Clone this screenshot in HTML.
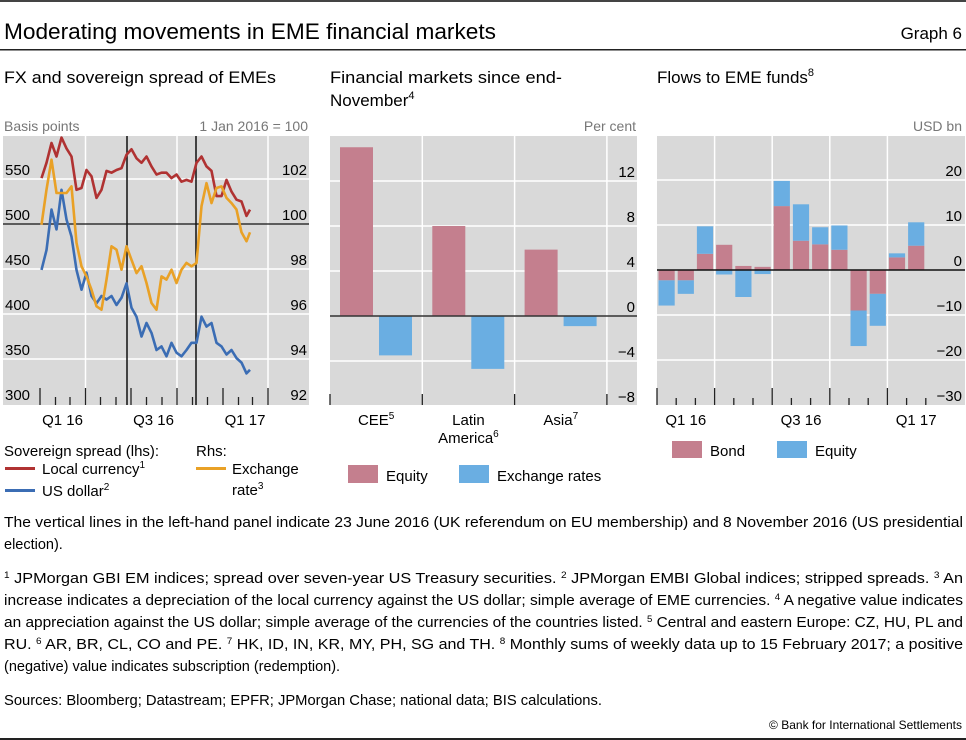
<!DOCTYPE html>
<html><head><meta charset="utf-8"><style>
html,body{margin:0;padding:0;background:#fff;}
svg{display:block;font-family:"Liberation Sans",sans-serif;}
</style></head><body>
<svg id="chart" width="966" height="740" viewBox="0 0 966 740" xmlns="http://www.w3.org/2000/svg">
<rect x="0" y="0" width="966" height="2" fill="#444"/>
<text x="4" y="39" font-size="22" textLength="492" lengthAdjust="spacingAndGlyphs">Moderating movements in EME financial markets</text>
<text x="962" y="39" font-size="17" text-anchor="end">Graph 6</text>
<rect x="0" y="49" width="966" height="1.5" fill="#222"/>

<text x="4" y="83" font-size="17" textLength="272" lengthAdjust="spacingAndGlyphs">FX and sovereign spread of EMEs</text>
<text x="330" y="83" font-size="17" textLength="232" lengthAdjust="spacingAndGlyphs">Financial markets since end-</text>
<text x="330" y="106" font-size="17">November<tspan font-size="11" dy="-7">4</tspan></text>
<text x="657" y="83" font-size="17" textLength="157" lengthAdjust="spacingAndGlyphs">Flows to EME funds<tspan font-size="11" dy="-7">8</tspan></text>

<text x="4" y="131" font-size="14" fill="#777">Basis points</text>
<text x="308" y="131" font-size="14" fill="#777" text-anchor="end">1 Jan 2016 = 100</text>
<text x="636" y="131" font-size="14" fill="#777" text-anchor="end">Per cent</text>
<text x="962" y="131" font-size="14" fill="#777" text-anchor="end">USD bn</text>

<g id="left"></g>
<g id="mid"></g>
<g id="right"></g>

<g font-size="15">
<text x="4" y="456">Sovereign spread (lhs):</text>
<text x="196" y="456">Rhs:</text>
<rect x="5" y="467" width="30" height="3" fill="#b03232"/>
<text x="42" y="474">Local currency<tspan font-size="10" dy="-6">1</tspan></text>
<rect x="5" y="489" width="30" height="3" fill="#3b6db4"/>
<text x="42" y="496">US dollar<tspan font-size="10" dy="-6">2</tspan></text>
<rect x="196" y="467" width="30" height="3" fill="#e9a126"/>
<text x="232" y="474">Exchange</text>
<text x="232" y="495">rate<tspan font-size="10" dy="-6">3</tspan></text>
</g>
<g font-size="15">
<rect x="348" y="465" width="30" height="18" fill="#c47f8e"/>
<text x="386" y="481">Equity</text>
<rect x="459" y="465" width="30" height="18" fill="#6aaee2"/>
<text x="497" y="481">Exchange rates</text>
</g>
<g font-size="15">
<rect x="672" y="441" width="30" height="17" fill="#c47f8e"/>
<text x="710" y="456">Bond</text>
<rect x="777" y="441" width="30" height="17" fill="#6aaee2"/>
<text x="815" y="456">Equity</text>
</g>

<g font-size="14.5">
<text x="4" y="527" textLength="959" lengthAdjust="spacingAndGlyphs">The vertical lines in the left-hand panel indicate 23 June 2016 (UK referendum on EU membership) and 8 November 2016 (US presidential</text>
<text x="4" y="549">election).</text>
<text x="4" y="583" textLength="959" lengthAdjust="spacingAndGlyphs"><tspan font-size="9" dy="-5">1</tspan><tspan dy="5">  JPMorgan GBI EM indices; spread over seven-year US Treasury securities.   </tspan><tspan font-size="9" dy="-5">2</tspan><tspan dy="5">  JPMorgan EMBI Global indices; stripped spreads.   </tspan><tspan font-size="9" dy="-5">3</tspan><tspan dy="5">  An</tspan></text>
<text x="4" y="605" textLength="959" lengthAdjust="spacingAndGlyphs">increase indicates a depreciation of the local currency against the US dollar; simple average of EME currencies.   <tspan font-size="9" dy="-5">4</tspan><tspan dy="5">  A negative value indicates</tspan></text>
<text x="4" y="627" textLength="959" lengthAdjust="spacingAndGlyphs">an appreciation against the US dollar; simple average of the currencies of the countries listed.   <tspan font-size="9" dy="-5">5</tspan><tspan dy="5">  Central and eastern Europe: CZ, HU, PL and</tspan></text>
<text x="4" y="649" textLength="959" lengthAdjust="spacingAndGlyphs">RU.   <tspan font-size="9" dy="-5">6</tspan><tspan dy="5">  AR, BR, CL, CO and PE.   </tspan><tspan font-size="9" dy="-5">7</tspan><tspan dy="5">  HK, ID, IN, KR, MY, PH, SG and TH.   </tspan><tspan font-size="9" dy="-5">8</tspan><tspan dy="5">  Monthly sums of weekly data up to 15 February 2017; a positive</tspan></text>
<text x="4" y="671">(negative) value indicates subscription (redemption).</text>
<text x="4" y="705" textLength="598" lengthAdjust="spacingAndGlyphs">Sources: Bloomberg; Datastream; EPFR; JPMorgan Chase; national data; BIS calculations.</text>
<text x="962" y="729" font-size="12" text-anchor="end">© Bank for International Settlements</text>
</g>
<rect x="0" y="738" width="966" height="2" fill="#222"/>
</svg>
<script>
// ---- Left panel data ----
const fxDays = [3,13,23,33,43,53,63,73,83,93,103,113,123,133,143,153,163,173,183,193,203,213,223,233,243,253,263,273,283,293,303,313,323,333,343,353,363,373,383,393,403,413,420];
const localCurrency = [551,568,590,575,596,584,575,538,540,560,553,529,538,559,557,560,562,577,583,573,568,575,564,555,557,557,551,555,547,549,547,568,575,564,559,531,531,549,536,527,525,509,516];
const usDollar = [449,471,516,494,538,505,486,449,427,446,420,412,420,416,420,410,418,434,407,397,375,390,379,360,364,353,368,357,353,360,368,368,397,386,390,368,364,355,360,351,346,334,338];
const exchangeRate = [99.97,101.53,102.86,101.38,101.38,101.38,101.67,99.16,98.12,97.67,97.08,96.34,96.19,97.53,99.01,98.86,97.97,99.01,98.41,97.82,98.12,97.38,96.49,96.19,97.67,97.53,97.97,97.38,97.97,98.27,98.12,98.27,100.79,101.82,100.93,101.6,101.67,101.16,100.93,100.64,99.63,99.23,99.63];
const lhsTicks = [300,350,400,450,500,550];
const rhsTicks = [92,94,96,98,100,102];
const fxQuarterLabels = ['Q1 16','Q3 16','Q1 17'];
const fxQuarterLabelDays = [45,227,410];
const eventDays = [174,312];
// ---- Middle panel data ----
const regions = ['CEE','Latin America','Asia'];
const regionNotes = ['5','6','7'];
const equityChange = [15.0,8.0,5.9];
const fxChange = [-3.5,-4.7,-0.9];
const midTicks = [-8,-4,0,4,8,12];
// ---- Right panel data ----
const flowMonths = ['Jan 16','Feb 16','Mar 16','Apr 16','May 16','Jun 16','Jul 16','Aug 16','Sep 16','Oct 16','Nov 16','Dec 16','Jan 17','Feb 17'];
const bondFlows = [-2.3,-2.3,3.6,5.6,0.9,0.7,14.2,6.5,5.7,4.5,-9.0,-5.3,2.8,5.4];
const equityFlows = [-5.6,-3.0,6.1,-1.0,-6.0,-0.9,5.6,8.1,3.8,5.4,-7.9,-7.1,0.9,5.2];
const flowTicks = [-30,-20,-10,0,10,20];
const flowQuarterLabels = ['Q1 16','Q3 16','Q1 17'];

const NS='http://www.w3.org/2000/svg';
function mk(parent, tag, attrs){const e=document.createElementNS(NS,tag);for(const k in attrs)e.setAttribute(k,attrs[k]);parent.appendChild(e);return e;}

// ---------- LEFT ----------
(function(){
const g=document.getElementById('left');
const X0=3,X1=309,Y0=136,Y1=405;
const xL=d=>40+d*0.5;
const yL=v=>224-(v-500)*0.9;
const yR=v=>224-(v-100)*22.5;
let r=mk(g,'rect',{x:X0,y:Y0,width:X1-X0,height:Y1-Y0,fill:'#d9d9d9'});


lhsTicks.forEach((v,i)=>{
  if(v>300 && v!==500){const l=mk(g,'line',{x1:X0,x2:X1,y1:yL(v),y2:yL(v),stroke:'#fff','stroke-width':1.5});
  
  }
  const t=mk(g,'text',{x:5,y:yL(v)-4,'font-size':15});t.textContent=v;
  
  
});
rhsTicks.forEach(v=>{
  const t=mk(g,'text',{x:307,y:yR(v)-4,'font-size':15,'text-anchor':'end'});t.textContent=v;
  
  
});
[91,274,456].forEach(d=>{const l=mk(g,'line',{x1:xL(d),x2:xL(d),y1:Y0,y2:Y1,stroke:'#fff','stroke-width':1.5});
  
  });
const monthStarts=[0,31,60,91,121,152,182,213,244,274,305,335,366,397,425,456];
monthStarts.forEach((d,i)=>{const tall=(i%3===0);const l=mk(g,'line',{x1:xL(d),x2:xL(d),y1:Y1-(tall?17:8),y2:Y1,stroke:'#222','stroke-width':1.3});
  
  });
let z=mk(g,'line',{x1:X0,x2:X1,y1:yL(500),y2:yL(500),stroke:'#111','stroke-width':1.3});


eventDays.forEach(d=>{const l=mk(g,'line',{x1:xL(d),x2:xL(d),y1:Y0,y2:Y1,stroke:'#111','stroke-width':1.5});
  
  });
function line(vals,fy,col,name){
  const p=vals.map((v,i)=>(i?'L':'M')+xL(fxDays[i]).toFixed(1)+','+fy(v).toFixed(1)).join('');
  const e=mk(g,'path',{d:p,fill:'none',stroke:col,'stroke-width':2.6,'stroke-linejoin':'round'});
  
  
}
line(localCurrency,yL,'#b03232','local-currency-line');
line(usDollar,yL,'#3b6db4','us-dollar-line');
line(exchangeRate,yR,'#e9a126','exchange-rate-line');
fxQuarterLabels.forEach((s,i)=>{const t=mk(g,'text',{x:xL(fxQuarterLabelDays[i]),y:425,'font-size':15,'text-anchor':'middle'});t.textContent=s;
  
  });
})();

// ---------- MIDDLE ----------
(function(){
const g=document.getElementById('mid');
const X0=330,X1=637,Y0=136,Y1=405,W=92.3;
const yM=v=>316-v*11.25;
const xM=i=>X0+i*W;
let r=mk(g,'rect',{x:X0,y:Y0,width:X1-X0,height:Y1-Y0,fill:'#d9d9d9'});


midTicks.forEach(v=>{
  if(v>-8 && v!==0){const l=mk(g,'line',{x1:X0,x2:X1,y1:yM(v),y2:yM(v),stroke:'#fff','stroke-width':1.5});
  
  }
  const t=mk(g,'text',{x:635,y:yM(v)-4,'font-size':15,'text-anchor':'end'});t.textContent=v<0?'\u2212'+(-v):v;
  
  
});
for(let i=1;i<=3;i++){const l=mk(g,'line',{x1:xM(i),x2:xM(i),y1:Y0,y2:Y1,stroke:'#fff','stroke-width':1.5});
  
  }
for(let i=0;i<=3;i++){const l=mk(g,'line',{x1:xM(i),x2:xM(i),y1:Y1-11,y2:Y1,stroke:'#222','stroke-width':1.3});
  
  }
regions.forEach((c,i)=>{
  const e=equityChange[i],f=fxChange[i];
  const b1=mk(g,'rect',{x:xM(i)+10,y:Math.min(yM(0),yM(e)),width:33,height:Math.abs(yM(e)-yM(0)),fill:'#c47f8e'});
  
  
  const b2=mk(g,'rect',{x:xM(i)+49,y:Math.min(yM(0),yM(f)),width:33,height:Math.abs(yM(f)-yM(0)),fill:'#6aaee2'});
  
  
  const words=c.split(' ');
  const cx=xM(i)+W/2;
  words.forEach((w,j)=>{
    const t=mk(g,'text',{x:cx,y:425+j*18,'font-size':15,'text-anchor':'middle'});
    t.textContent=w;
    if(j===words.length-1){const s=mk(t,'tspan',{'font-size':10,dy:-6});s.textContent=regionNotes[i];}
    
    
  });
});
let z=mk(g,'line',{x1:X0,x2:X1,y1:yM(0),y2:yM(0),stroke:'#333','stroke-width':1.5});


})();

// ---------- RIGHT ----------
(function(){
const g=document.getElementById('right');
const X0=657,X1=965,Y0=136,Y1=405,W=19.2;
const yF=v=>270-v*4.5;
const xF=i=>X0+i*W;
let r=mk(g,'rect',{x:X0,y:Y0,width:X1-X0,height:Y1-Y0,fill:'#d9d9d9'});


flowTicks.forEach(v=>{
  if(v>-30 && v!==0){const l=mk(g,'line',{x1:X0,x2:X1,y1:yF(v),y2:yF(v),stroke:'#fff','stroke-width':1.5});
  
  }
  const t=mk(g,'text',{x:962,y:yF(v)-4,'font-size':15,'text-anchor':'end'});t.textContent=v<0?'\u2212'+(-v):v;
  
  
});
for(let q=1;q<=4;q++){const l=mk(g,'line',{x1:xF(q*3),x2:xF(q*3),y1:Y0,y2:Y1,stroke:'#fff','stroke-width':1.5});
  
  }
for(let i=0;i<=flowMonths.length;i++){const tall=i%3===0;const l=mk(g,'line',{x1:xF(i),x2:xF(i),y1:Y1-(tall?17:7),y2:Y1,stroke:'#222','stroke-width':1.3});
  
  }
flowMonths.forEach((m,i)=>{
  const b=bondFlows[i],e=equityFlows[i];
  const x=xF(i)+1.5,w=W-3;
  const rb=mk(g,'rect',{x:x,y:Math.min(yF(0),yF(b)),width:w,height:Math.abs(yF(b)-yF(0)),fill:'#c47f8e'});
  
  
  const base=(Math.sign(b)===Math.sign(e))?b:0;
  const re=mk(g,'rect',{x:x,y:Math.min(yF(base),yF(base+e)),width:w,height:Math.abs(yF(base+e)-yF(base)),fill:'#6aaee2'});
  
  
});
let z=mk(g,'line',{x1:X0,x2:X1,y1:yF(0),y2:yF(0),stroke:'#111','stroke-width':1.5});


flowQuarterLabels.forEach((s,k)=>{const t=mk(g,'text',{x:xF(k*6)+1.5*W,y:425,'font-size':15,'text-anchor':'middle'});t.textContent=s;
  
  });
})();
</script>
</body></html>
